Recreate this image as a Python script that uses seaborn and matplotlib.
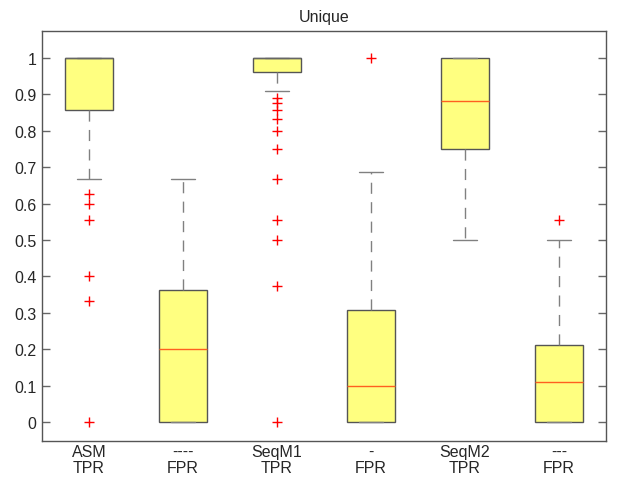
import numpy as np
import pandas as pd
import matplotlib
matplotlib.use('Agg')
import matplotlib.pyplot as plt
import seaborn as sns

# group labels (x axis, two lines each)
groups = ['ASM\nTPR', '----\nFPR', 'SeqM1\nTPR', '-\nFPR', 'SeqM2\nTPR', '---\nFPR']

# per-group samples (quartiles, whiskers, outliers)
asm_tpr = [0, 0.333, 0.4, 0.556, 0.6, 0.625, 0.667, 0.857] + [1.0] * 21
asm_fpr = [0, 0, 0, 0.1, 0.2, 0.3, 0.364, 0.5, 0.667]
seqm1_tpr = [0, 0.375, 0.5, 0.556, 0.667, 0.75, 0.8, 0.833, 0.857, 0.875, 0.889,
             0.909, 0.9615] + [1.0] * 36
seqm1_fpr = [0, 0, 0, 0.05, 0.1, 0.2, 0.308, 0.6875, 1.0]
seqm2_tpr = [0.5, 0.6, 0.75, 0.8, 0.882, 0.95, 1.0, 1.0, 1.0]
seqm2_fpr = [0, 0, 0, 0.05, 0.11, 0.15, 0.211, 0.5, 0.556]

yticks = [0, 0.1, 0.2, 0.3, 0.4, 0.5, 0.6, 0.7, 0.8, 0.9, 1]
ytick_labels = ['0', '0.1', '0.2', '0.3', '0.4', '0.5', '0.6', '0.7', '0.8', '0.9', '1']

samples = [asm_tpr, asm_fpr, seqm1_tpr, seqm1_fpr, seqm2_tpr, seqm2_fpr]
df = pd.DataFrame({
    'group': np.concatenate([[g] * len(s) for g, s in zip(groups, samples)]),
    'value': np.concatenate(samples),
})

sns.set_style('white')
plt.rcParams['font.family'] = ['Liberation Sans', 'DejaVu Sans']

fig = plt.figure(figsize=(6.17, 4.81), dpi=100)
ax = fig.add_axes([0.068, 0.081, 0.914, 0.8525])

sns.boxplot(
    data=df, x='group', y='value', order=groups, ax=ax,
    color='#ffff80', saturation=1, width=0.51, whis=1.5,
    linecolor='#555555', linewidth=1,
    boxprops=dict(edgecolor='#555555', linewidth=1),
    medianprops=dict(color='#ff6020', linewidth=1),
    whiskerprops=dict(color='#808080', linestyle=(0, (8, 6)), linewidth=1),
    capprops=dict(color='#808080', linewidth=1),
    flierprops=dict(marker='+', markeredgecolor='red', markerfacecolor='red',
                    markersize=7, markeredgewidth=1),
)

# median sitting on the box top is hidden by the edge in the original
for ln in ax.lines:
    y = np.asarray(ln.get_ydata(), dtype=float)
    if ln.get_color() == '#ff6020' and len(y) and np.allclose(y, 1.0):
        ln.set_color('#666666')

ax.set_xlim(-0.5, 5.5)
ax.set_ylim(-0.052, 1.074)
ax.set_yticks(yticks)
ax.set_yticklabels(ytick_labels)
ax.tick_params(axis='y', direction='in', length=6, width=1, color='#666666',
               left=True, right=True, labelsize=11.5, pad=4)
ax.tick_params(axis='x', length=0, labelsize=11.5, pad=2)
for lbl in ax.get_xticklabels():
    lbl.set_linespacing(1.1)
for sp in ax.spines.values():
    sp.set_visible(True)
    sp.set_color('#555555')
    sp.set_linewidth(1)
ax.set_xlabel('')
ax.set_ylabel('')
ax.set_title('Unique', fontsize=11.5, pad=7)

fig.savefig('out.png', dpi=100)
